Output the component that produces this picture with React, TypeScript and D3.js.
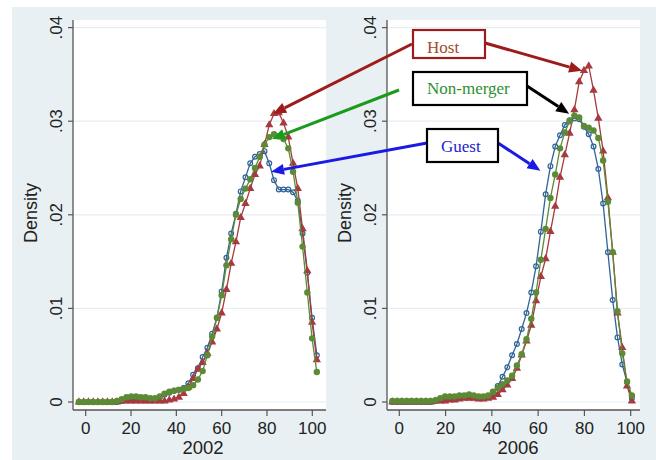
import React from 'react';
import { line, scaleLinear, symbol, symbolTriangle } from 'd3';

// evaluation points of the densities
const x2002 = [-3, -0.9, 1.2, 3.3, 5.4, 7.5, 9.6, 11.7, 13.8, 15.9, 18, 20.1, 22.2, 24.3, 26.4, 28.5, 30.6, 32.7, 34.8, 36.9, 39, 41.1, 43.2, 45.3, 47.4, 49.5, 51.6, 53.7, 55.8, 57.9, 60, 62.1, 64.2, 66.3, 68.4, 70.5, 72.6, 74.7, 76.8, 78.9, 81, 83.1, 85.2, 87.3, 89.4, 91.5, 93.6, 95.7, 97.8, 99.9, 102];
const x2006 = [-3, -0.93, 1.14, 3.21, 5.28, 7.35, 9.42, 11.49, 13.56, 15.63, 17.7, 19.77, 21.84, 23.91, 25.98, 28.05, 30.12, 32.19, 34.26, 36.33, 38.4, 40.47, 42.54, 44.61, 46.68, 48.75, 50.82, 52.89, 54.96, 57.03, 59.1, 61.17, 63.24, 65.31, 67.38, 69.45, 71.52, 73.59, 75.66, 77.73, 79.8, 81.87, 83.94, 86.01, 88.08, 90.15, 92.22, 94.29, 96.36, 98.43, 100.5];

const guest2002 = [0, 0, 0, 0, 0, 0, 0, 0, 0, 0.0001, 0.0002, 0.0003, 0.0004, 0.0003, 0.0002, 0.0002, 0.0003, 0.0005, 0.0008, 0.001, 0.0012, 0.0013, 0.0015, 0.002, 0.0029, 0.0036, 0.0048, 0.0058, 0.0073, 0.009, 0.0118, 0.0154, 0.018, 0.0201, 0.0225, 0.024, 0.0255, 0.0262, 0.0265, 0.0268, 0.0255, 0.0237, 0.0227, 0.0227, 0.0227, 0.0224, 0.0215, 0.018, 0.0138, 0.009, 0.005];
const host2002 = [0, 0, 0, 0, 0, 0, 0, 0, 0, 0.0001, 0.0001, 0.0001, 0.0001, 0.0001, 0.0001, 0.0001, 0.0001, 0.0001, 0.0001, 0.0002, 0.0003, 0.0005, 0.0009, 0.0016, 0.0025, 0.0035, 0.0042, 0.0052, 0.0064, 0.0078, 0.0095, 0.012, 0.0148, 0.0171, 0.0197, 0.0212, 0.0228, 0.0243, 0.0252, 0.0275, 0.0296, 0.0308, 0.0309, 0.0298, 0.0283, 0.0255, 0.0228, 0.0185, 0.014, 0.0085, 0.0045];
const other2002 = [0, 0, 0, 0, 0, 0, 0, 0, 0.0001, 0.0003, 0.0005, 0.0006, 0.0006, 0.0005, 0.0005, 0.0004, 0.0004, 0.0006, 0.0009, 0.0011, 0.0012, 0.0013, 0.0014, 0.0015, 0.0018, 0.0024, 0.0033, 0.005, 0.007, 0.009, 0.0114, 0.0146, 0.0174, 0.02, 0.0217, 0.0228, 0.0238, 0.025, 0.0262, 0.0275, 0.0283, 0.0286, 0.0284, 0.0281, 0.0271, 0.0246, 0.0213, 0.0166, 0.0117, 0.0068, 0.0032];

const guest2006 = [0, 0, 0, 0, 0, 0, 0, 0, 0, 0.0001, 0.0003, 0.0004, 0.0005, 0.0005, 0.0005, 0.0006, 0.0006, 0.0006, 0.0005, 0.0005, 0.0006, 0.001, 0.0017, 0.0027, 0.0037, 0.005, 0.0062, 0.0078, 0.0095, 0.0117, 0.0145, 0.0182, 0.0222, 0.0252, 0.0273, 0.0285, 0.0296, 0.0301, 0.0303, 0.0302, 0.0294, 0.0286, 0.0273, 0.0249, 0.0212, 0.016, 0.0109, 0.0069, 0.004, 0.0021, 0.0004];
const host2006 = [0, 0, 0, 0, 0, 0, 0, 0, 0, 0.0001, 0.0001, 0.0001, 0.0002, 0.0002, 0.0003, 0.0004, 0.0004, 0.0004, 0.0003, 0.0003, 0.0004, 0.0005, 0.0008, 0.0013, 0.0018, 0.0025, 0.0036, 0.005, 0.0065, 0.0082, 0.0108, 0.0134, 0.0153, 0.0182, 0.0209, 0.024, 0.0264, 0.0287, 0.0312, 0.0342, 0.0354, 0.0359, 0.0333, 0.0303, 0.0268, 0.0218, 0.016, 0.0095, 0.0058, 0.0017, 0.0001];
const other2006 = [0.0001, 0.0001, 0.0001, 0.0001, 0.0001, 0.0001, 0.0001, 0.0001, 0.0001, 0.0002, 0.0004, 0.0006, 0.0006, 0.0006, 0.0007, 0.0007, 0.0008, 0.0007, 0.0006, 0.0006, 0.0007, 0.0011, 0.0015, 0.0019, 0.0023, 0.0028, 0.0039, 0.0051, 0.0067, 0.0089, 0.0117, 0.0152, 0.0185, 0.0218, 0.0243, 0.0271, 0.0288, 0.03, 0.0306, 0.0304, 0.0295, 0.0293, 0.029, 0.0282, 0.0258, 0.0214, 0.016, 0.0097, 0.0052, 0.0022, 0.0007];

const xTicks = [0, 20, 40, 60, 80, 100];
const yTicks = [0, 0.01, 0.02, 0.03, 0.04];
const yTickLabels = ['0', '.01', '.02', '.03', '.04'];

const NAVY = '#2f6497';
const MAROON = '#a63a3e';
const GREEN = '#5c8a35';
const SANS = '"Liberation Sans", Arial, sans-serif';
const SERIF = '"Liberation Serif", "Times New Roman", serif';

const yScale = scaleLinear().domain([0, 0.04]).range([402, 27.6]);
const xLeft = scaleLinear().domain([0, 100]).range([85.7, 312.3]);
const xRight = scaleLinear().domain([0, 100]).range([399.3, 630.7]);

const tri = symbol().type(symbolTriangle).size(30)();

function Panel({ xs, guest, host, other, x, title, x0, x1, titleX }) {
  const path = line<number>().x((_, i) => x(xs[i])).y(d => yScale(d));
  const top = 20, bottom = 410;
  return (
    <g>
      <rect x={x0} y={top} width={x1 - x0} height={bottom - top} fill="#fff" />
      {yTicks.map(t => (
        <line key={t} x1={x0} x2={x1} y1={yScale(t)} y2={yScale(t)} stroke="#e6eef2" strokeWidth={1.2} />
      ))}
      {/* guest */}
      <path d={path(guest)} fill="none" stroke={NAVY} strokeWidth={1.3} />
      {guest.map((d, i) => (
        <circle key={i} cx={x(xs[i])} cy={yScale(d)} r={2.4} fill="none" stroke={NAVY} strokeWidth={1.2} />
      ))}
      {/* host */}
      <path d={path(host)} fill="none" stroke={MAROON} strokeWidth={1.3} />
      {host.map((d, i) => (
        <path key={i} d={tri} transform={`translate(${x(xs[i])},${yScale(d)})`} fill={MAROON} />
      ))}
      {/* non-merger */}
      <path d={path(other)} fill="none" stroke={GREEN} strokeWidth={1.3} />
      {other.map((d, i) => (
        <circle key={i} cx={x(xs[i])} cy={yScale(d)} r={3.2} fill={GREEN} />
      ))}
      <line x1={x0} x2={x0} y1={top} y2={bottom} stroke="#555" strokeWidth={1.3} />
      <line x1={x0} x2={x1} y1={bottom} y2={bottom} stroke="#555" strokeWidth={1.3} />
      {yTicks.map((t, i) => (
        <g key={t}>
          <line x1={x0 - 5} x2={x0} y1={yScale(t)} y2={yScale(t)} stroke="#555" strokeWidth={1.2} />
          <text transform={`translate(${x0 - 11},${yScale(t)}) rotate(-90)`} textAnchor="middle"
            fontFamily={SANS} fontSize={17} fill="#222">{yTickLabels[i]}</text>
        </g>
      ))}
      {xTicks.map(t => (
        <g key={t}>
          <line x1={x(t)} x2={x(t)} y1={bottom} y2={bottom + 6} stroke="#555" strokeWidth={1.2} />
          <text x={x(t)} y={434} textAnchor="middle" fontFamily={SANS} fontSize={17} fill="#222">{t}</text>
        </g>
      ))}
      <text transform={`translate(${x0 - 36},213) rotate(-90)`} textAnchor="middle"
        fontFamily={SANS} fontSize={18} fill="#222">Density</text>
      <text x={titleX} y={454} textAnchor="middle" fontFamily={SANS} fontSize={18.5} fill="#222">{title}</text>
    </g>
  );
}

function Arrow({ from, to, color }) {
  const dx = to[0] - from[0], dy = to[1] - from[1];
  const len = Math.hypot(dx, dy);
  const ux = dx / len, uy = dy / len;
  const hl = 13, hw = 5.5;
  const bx = to[0] - ux * hl, by = to[1] - uy * hl;
  const pts = [
    [to[0], to[1]],
    [bx - uy * hw, by + ux * hw],
    [bx + uy * hw, by - ux * hw],
  ];
  return (
    <g>
      <line x1={from[0]} y1={from[1]} x2={bx} y2={by} stroke={color} strokeWidth={3} />
      <polygon points={pts.map(p => p.join(',')).join(' ')} fill={color} />
    </g>
  );
}

function Box({ x, y, w, h, stroke, color, label, tx, ty }) {
  return (
    <g>
      <rect x={x} y={y} width={w} height={h} fill="#fff" stroke={stroke} strokeWidth={2.2} />
      <text x={tx} y={ty} fontFamily={SERIF} fontSize={17} fill={color}>{label}</text>
    </g>
  );
}

export default function App() {
  const p = (sx, xv, yv) => [sx(xv), yScale(yv)];
  return (
    <svg width={656} height={460} style={{ position: 'absolute', left: 0, top: 0 }}>
      <rect x={0} y={0} width={656} height={460} fill="#fff" />
      <rect x={12} y={7} width={644} height={453} fill="#e9f0f3" />
      <Panel xs={x2002} guest={guest2002} host={host2002} other={other2002} x={xLeft}
        title="2002" x0={73} x1={326} titleX={203} />
      <Panel xs={x2006} guest={guest2006} host={host2006} other={other2006} x={xRight}
        title="2006" x0={387} x1={640} titleX={518} />

      <Arrow from={[412, 44]} to={p(xLeft, 82.7, 0.0308)} color="#9e1b1b" />
      <Arrow from={[485, 43]} to={p(xRight, 79.0, 0.0354)} color="#9e1b1b" />
      <Arrow from={[399, 90]} to={p(xLeft, 82.2, 0.0281)} color="#1c9a1c" />
      <Arrow from={[527, 86]} to={p(xRight, 73.4, 0.0308)} color="#000" />
      <Arrow from={[427, 143]} to={p(xLeft, 81.8, 0.0246)} color="#1a1ae6" />
      <Arrow from={[498, 143]} to={p(xRight, 61.0, 0.0247)} color="#1a1ae6" />

      <Box x={413} y={30} w={72} h={28} stroke="#9e1b1b" color="#a24a2c" label="Host" tx={427} ty={53} />
      <Box x={413} y={72} w={114} h={33} stroke="#000" color="#2e8f2e" label="Non-merger" tx={427} ty={94} />
      <Box x={427} y={129} w={71} h={33} stroke="#000" color="#2323d0" label="Guest" tx={441} ty={152} />
    </svg>
  );
}
